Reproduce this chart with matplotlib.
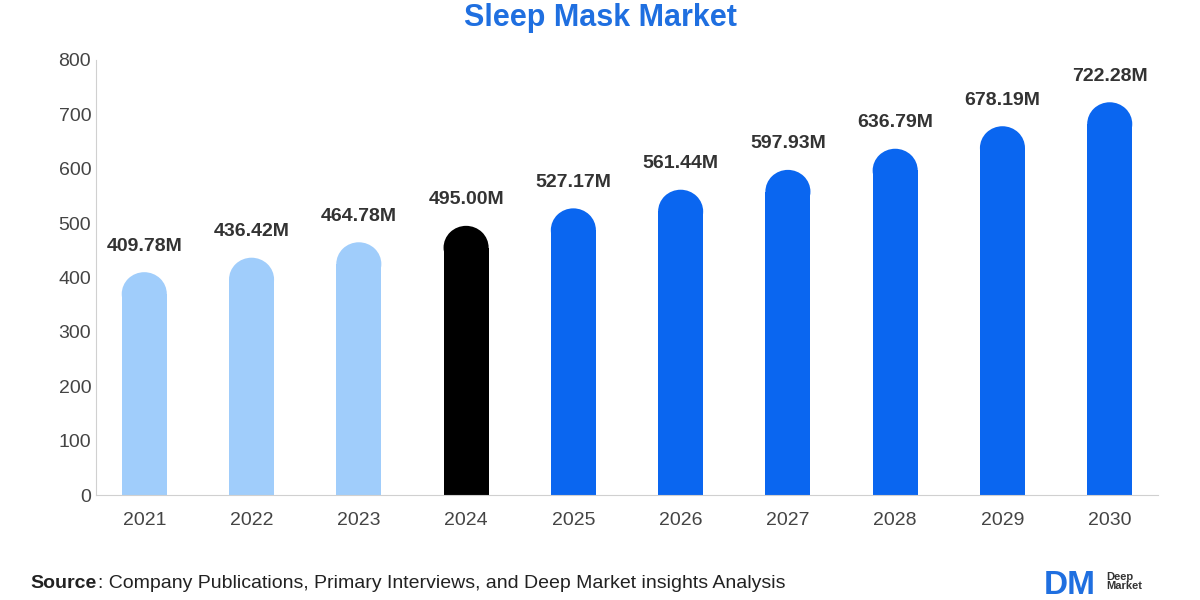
import matplotlib
matplotlib.use("Agg")
import matplotlib.pyplot as plt
from matplotlib.patches import Ellipse, Rectangle

plt.rcParams["font.family"] = ["Liberation Sans", "DejaVu Sans"]

years = ["2021", "2022", "2023", "2024", "2025", "2026", "2027", "2028", "2029", "2030"]
values = [409.78, 436.42, 464.78, 495.00, 527.17, 561.44, 597.93, 636.79, 678.19, 722.28]
colors = ["#A0CDFB"] * 3 + ["#000000"] + ["#0A66F0"] * 6

fig = plt.figure(figsize=(12, 6), dpi=100)
ax = fig.add_axes([0.08, 0.175, 0.885, 0.725])
ax.set_xlim(-0.45, 9.45)
ax.set_ylim(0, 800)

w = 0.42
ry = 40  # cap height in data units (~half bar width on screen)
for i, (v, c) in enumerate(zip(values, colors)):
    ax.add_patch(Rectangle((i - w / 2, 0), w, v - ry, color=c, lw=0))
    ax.add_patch(Ellipse((i, v - ry), w, 2 * ry, color=c, lw=0))
    ax.text(i, v + 32, f"{v:.2f}M", ha="center", va="bottom", fontsize=14,
            fontweight="bold", color="#333333")

ax.set_xticks(range(len(years)))
ax.set_xticklabels(years, fontsize=14, color="#444444")
ax.set_yticks(range(0, 801, 100))
ax.tick_params(axis="y", labelsize=14, labelcolor="#444444", length=0)
ax.tick_params(axis="x", length=0, pad=12)
for s in ["top", "right"]:
    ax.spines[s].set_visible(False)
ax.spines["left"].set_color("#D0D0D0")
ax.spines["bottom"].set_color("#D0D0D0")

fig.text(0.5, 0.97, "Sleep Mask Market", ha="center", va="center", fontsize=22,
         fontweight="bold", color="#1F6FE0")
fig.text(0.025, 0.02, "Source", fontsize=14, fontweight="bold", color="#222222")
fig.text(0.082, 0.02, ": Company Publications, Primary Interviews, and Deep Market insights Analysis",
         fontsize=14, color="#222222")
fig.text(0.87, 0.01, "DM", fontsize=24, fontweight="bold", color="#1F6FE0")
fig.text(0.922, 0.018, "Deep\nMarket", fontsize=8, fontweight="bold", color="#333333",
         linespacing=0.9)

fig.savefig("out.png", dpi=100)
